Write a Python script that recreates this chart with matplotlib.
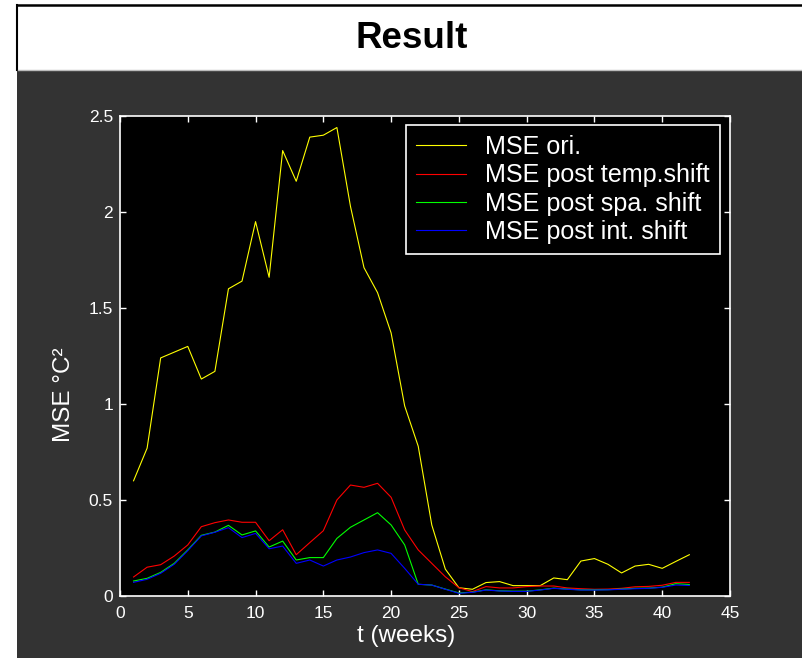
import matplotlib
matplotlib.use("Agg")
import matplotlib.pyplot as plt
from matplotlib.patches import Rectangle
from matplotlib.lines import Line2D

plt.rcParams['font.family'] = ['Liberation Sans', 'DejaVu Sans']

# weekly MSE values
weeks = list(range(1, 43))
mse_ori = [0.60, 0.77, 1.24, 1.27, 1.30, 1.13, 1.17, 1.60, 1.64, 1.95,
           1.66, 2.32, 2.16, 2.39, 2.40, 2.44, 2.03, 1.71, 1.58, 1.37,
           0.99, 0.78, 0.37, 0.14, 0.043, 0.035, 0.07, 0.075, 0.054, 0.054,
           0.054, 0.094, 0.085, 0.182, 0.195, 0.165, 0.12, 0.156, 0.165, 0.144,
           0.18, 0.215]
mse_temp = [0.099, 0.15, 0.163, 0.208, 0.266, 0.361, 0.382, 0.396, 0.384, 0.384,
            0.288, 0.345, 0.215, 0.278, 0.34, 0.50, 0.578, 0.566, 0.587, 0.514,
            0.344, 0.24, 0.17, 0.10, 0.043, 0.023, 0.049, 0.042, 0.042, 0.049,
            0.052, 0.052, 0.042, 0.038, 0.035, 0.036, 0.04, 0.048, 0.05, 0.056,
            0.071, 0.071]
mse_spa = [0.078, 0.092, 0.123, 0.17, 0.24, 0.316, 0.333, 0.368, 0.318, 0.339,
           0.255, 0.286, 0.1875, 0.2, 0.2, 0.30, 0.358, 0.396, 0.434, 0.37,
           0.266, 0.061, 0.057, 0.036, 0.016, 0.02, 0.032, 0.027, 0.025, 0.025,
           0.032, 0.041, 0.036, 0.032, 0.032, 0.033, 0.036, 0.04, 0.041, 0.046,
           0.064, 0.06]
mse_int = [0.071, 0.087, 0.118, 0.165, 0.236, 0.313, 0.332, 0.356, 0.304, 0.326,
           0.246, 0.26, 0.17, 0.1875, 0.156, 0.1875, 0.203, 0.226, 0.24, 0.222,
           0.144, 0.061, 0.057, 0.035, 0.014, 0.019, 0.031, 0.026, 0.024, 0.024,
           0.031, 0.04, 0.035, 0.031, 0.031, 0.032, 0.035, 0.038, 0.04, 0.045,
           0.057, 0.055]
labels = ["MSE ori.", "MSE post temp.shift", "MSE post spa. shift", "MSE post int. shift"]
colors = ["#ffff00", "#ff0000", "#00ff00", "#0000ff"]

W, H = 803, 658
fig = plt.figure(figsize=(W / 100, H / 100), dpi=100)
fig.patch.set_facecolor("white")

# dark panel and title box
fig.add_artist(Rectangle((17 / W, 0), 1, (H - 70) / H, transform=fig.transFigure,
                         facecolor="#333333", edgecolor="none", zorder=-10))
fig.add_artist(Line2D([17.5 / W, 17.5 / W], [(H - 5) / H, (H - 70) / H],
                      transform=fig.transFigure, color="black", lw=1.5))
fig.add_artist(Line2D([17 / W, 1], [(H - 5) / H, (H - 5) / H],
                      transform=fig.transFigure, color="black", lw=1.8))
fig.add_artist(Line2D([18 / W, 1], [(H - 70) / H, (H - 70) / H],
                      transform=fig.transFigure, color="#bbbbbb", lw=1.0))
fig.text(411.5 / W, (H - 39) / H, "Result", ha="center", va="center",
         fontsize=26.5, fontweight="bold", color="black")

ax = fig.add_axes([120 / W, (H - 596) / H, 610 / W, 480 / H])
ax.set_facecolor("black")
for series, lab, col in zip([mse_ori, mse_temp, mse_spa, mse_int], labels, colors):
    ax.plot(weeks, series, color=col, lw=0.8, label=lab)

ax.set_xlim(0, 45)
ax.set_ylim(0, 2.5)
ax.set_xticks(range(0, 46, 5))
ax.set_yticks([0, 0.5, 1, 1.5, 2, 2.5])
ax.set_yticklabels(["0", "0.5", "1", "1.5", "2", "2.5"])
ax.tick_params(direction="in", length=4, width=1, colors="white",
               top=True, right=True, labelsize=12.5)
ax.tick_params(axis="x", pad=7)
ax.tick_params(axis="y", pad=5)
for sp in ax.spines.values():
    sp.set_color("white")
    sp.set_linewidth(1.2)

fig.text(406 / W, (H - 636) / H, "t (weeks)", ha="center", va="center",
         fontsize=17.5, color="white")
fig.text(64 / W, (H - 395) / H, "MSE °C²", ha="center", va="center",
         rotation=90, fontsize=17.5, color="white")

leg = ax.legend(loc="upper right", bbox_to_anchor=(0.9836, 0.981), borderaxespad=0,
                fontsize=18.1, frameon=True, fancybox=False, handlelength=2.0,
                handletextpad=0.75, borderpad=0.4, labelspacing=0.17)
leg.get_frame().set_facecolor("black")
leg.get_frame().set_edgecolor("white")
leg.get_frame().set_linewidth(1.2)
leg.get_frame().set_alpha(1)
for txt in leg.get_texts():
    txt.set_color("white")

fig.savefig("out.png", dpi=100, facecolor=fig.get_facecolor())
